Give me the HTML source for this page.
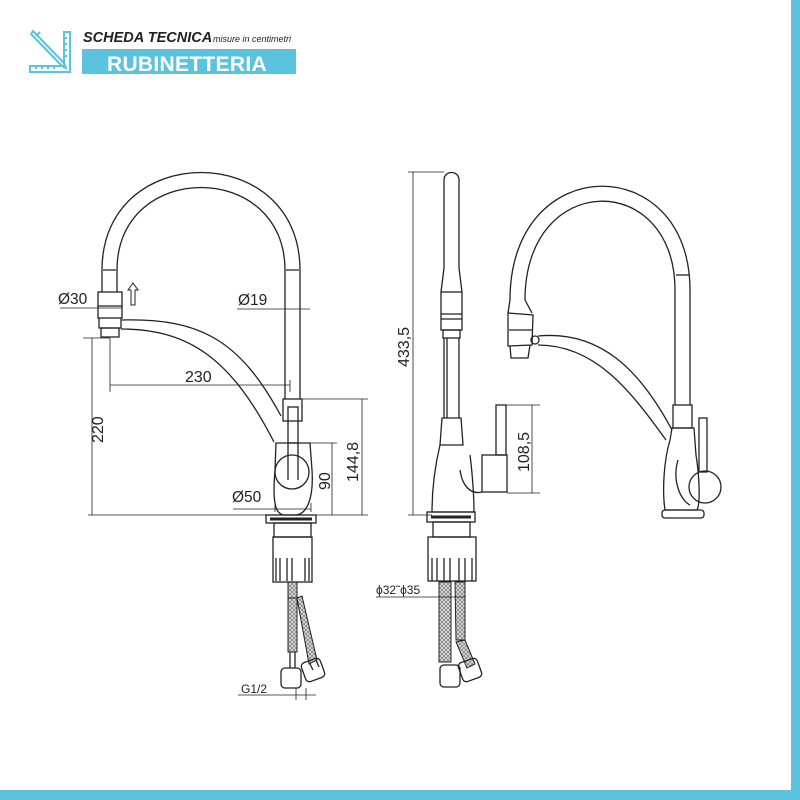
<!DOCTYPE html>
<html><head><meta charset="utf-8"><style>
html,body{margin:0;padding:0;background:#fff}
svg{display:block}
text{font-family:"Liberation Sans",Arial,sans-serif;fill:#222}
</style></head><body>
<svg width="800" height="800" viewBox="0 0 800 800" xmlns="http://www.w3.org/2000/svg">
<defs>
<pattern id="br" width="4" height="4" patternUnits="userSpaceOnUse">
<rect width="4" height="4" fill="#ddd"/>
<path d="M0,4 L4,0 M0,0 L4,4" stroke="#666" stroke-width="0.6"/>
</pattern>
</defs>
<rect x="0" y="0" width="800" height="800" fill="#fff"/>
<rect x="791" y="0" width="9" height="800" fill="#5bc3de"/>
<rect x="0" y="790" width="800" height="10" fill="#5bc3de"/>
<!-- header icon -->
<g stroke="#5bc3de" stroke-width="2" fill="none">
<path d="M31,34 L62,66 L66,68 L64,63 L33,31 Z"/>
<path d="M36,36 L40,32"/>
<path d="M64,32 L70,32 L70,72 L30,72 L30,66 L64,66 Z"/>
<path d="M64,38h3M64,44h3M64,50h3M64,56h3M36,69v-3M42,69v-3M48,69v-3M54,69v-3"/>
</g>
<text x="83" y="42" font-size="14.5" font-style="italic" font-weight="bold">SCHEDA TECNICA</text>
<text x="213" y="42" font-size="9" font-style="italic">misure in centimetri</text>
<rect x="82" y="49" width="214" height="25" fill="#5bc3de"/>
<text x="107" y="71" font-size="21" style="fill:#fff" font-weight="bold" letter-spacing="0.3">RUBINETTERIA</text>

<!-- hoses fill -->
<g fill="url(#br)" stroke="#222" stroke-width="1">
<rect x="288" y="582" width="9" height="16"/>
<path d="M288,598 H297 L297,652 H288 Z"/>
<path d="M297,598 L302,596 L317,660 L309,664 Z"/>
<rect x="439" y="582" width="12" height="80"/>
<path d="M455,582 H465 V640 L456,640 Z"/>
<path d="M456,642 L465,640 L475,664 L467,668 Z"/>
</g>

<g stroke="#222" stroke-width="1.3" fill="none">
<!-- LEFT VIEW -->
<path d="M102,292 L102,270 C102,140 300,140 300,270 L300,399"/>
<path d="M117,292 L117,270 C117,160 285,160 285,270 L285,399"/>
<path d="M103,270 H116 M286,270 H299"/>
<rect x="98" y="292" width="24" height="26"/>
<path d="M98,306 H122"/>
<path d="M99,318 L99,328 H121 V318"/>
<rect x="101" y="328" width="18" height="9"/>
<path d="M122,320 C200,318 240,340 281,416"/>
<path d="M121,329 C190,329 232,360 274,442"/>
<rect x="283" y="399" width="19" height="22"/>
<rect x="288" y="407" width="10" height="36"/>
<path d="M288,443 V480 M298,443 V480"/>
<path d="M276,443 H310 L312,470 C314,500 306,515 295,515 H285 C276,515 272,505 275,470 Z"/>
<circle cx="292" cy="472" r="17"/>
<rect x="266" y="515" width="50" height="8"/>
<path d="M270,519 H312" stroke-width="3"/>
<rect x="274" y="523" width="37" height="14"/>
<rect x="273" y="537" width="39" height="45"/>
<path d="M276,558 V581 M280,558 V581 M287,558 V581 M292,558 V581 M305,558 V581 M309,558 V581"/>
<path d="M290,652 V668 M295,652 V668 M310,664 L313,670 M316,660 L319,667"/>
<rect x="281" y="668" width="20" height="20" rx="4"/>
<rect x="303" y="660" width="20" height="20" rx="4" transform="rotate(-20 313 670)"/>
<!-- left dims -->
<g stroke-width="0.8">
<path d="M88,515 H368"/>
<path d="M92,338 V515"/>
<path d="M83,338 H110"/>
<path d="M110,338 V392 M290,380 V392"/>
<path d="M110,385 H290"/>
<path d="M300,399 H368 M362,399 V515"/>
<path d="M306,443 H337 M332,443 V515"/>
<path d="M237,309 H310"/>
<path d="M60,308 H122"/>
<path d="M275,503 V512 M311,503 V512 M233,509 H311"/>
<path d="M296,688 V700 M306,688 V700 M238,695 H316"/>
</g>
<path d="M131,305 V290 H128 L133,283 L138,290 H135 V305 Z" stroke-width="1"/>

<!-- MIDDLE VIEW -->
<path d="M444,268 V180 C444,170 459,170 459,180 V268"/>
<path d="M444,268 L441,292 M459,268 L462,292"/>
<rect x="441" y="292" width="21" height="38"/>
<path d="M441,314 H462 M441,319 H462"/>
<rect x="443" y="330" width="17" height="8"/>
<path d="M444,338 V418 M459,338 V418 M447,338 V418"/>
<path d="M442,418 H461 L463,445 H440 Z"/>
<path d="M440,445 C434,470 432,495 432,512 H474 C474,495 472,470 470,455"/>
<path d="M460,470 C462,485 470,495 482,492"/>
<rect x="482" y="455" width="25" height="37"/>
<rect x="496" y="405" width="10" height="50"/>
<rect x="427" y="512" width="48" height="10"/>
<path d="M431,517 H471" stroke-width="3"/>
<rect x="433" y="522" width="37" height="15"/>
<rect x="428" y="537" width="48" height="44"/>
<path d="M432,558 V581 M437,558 V581 M444,558 V581 M450,558 V581 M459,558 V581 M465,558 V581 M472,558 V581"/>
<rect x="440" y="665" width="20" height="22" rx="4"/>
<rect x="460" y="660" width="20" height="20" rx="4" transform="rotate(-20 470 670)"/>
<g stroke-width="0.8">
<path d="M408,172 H444 M413,172 V515 M408,515 H432"/>
<path d="M506,405 H540 M532,405 V493 M507,493 H540"/>
<path d="M376,597 H465"/>
</g>

<!-- RIGHT VIEW -->
<path d="M510,300 C510,150 690,150 690,290 L690,405"/>
<path d="M525,300 C525,170 675,170 675,290 L675,405"/>
<path d="M676,275 H689"/>
<path d="M510,300 L508,313 M525,300 L532,313"/>
<path d="M508,313 L533,315 L532,345 L508,346 Z"/>
<path d="M509,330 H532"/>
<path d="M510,346 L511,358 H528 L530,345"/>
<circle cx="535" cy="340" r="4"/>
<path d="M538,336 C600,330 640,370 672,430"/>
<path d="M538,345 C595,345 630,390 666,440"/>
<rect x="673" y="405" width="19" height="23"/>
<path d="M672,428 H694 L696,455 C700,480 700,505 697,510 H665 C662,490 664,460 670,440 Z"/>
<path d="M678,460 C672,480 680,500 690,505"/>
<circle cx="705" cy="487" r="16"/>
<rect x="699" y="418" width="8" height="54"/>
<rect x="662" y="510" width="42" height="8" rx="3"/>
</g>
<!-- labels -->
<text x="58" y="304" font-size="15.5">Ø30</text>
<text x="238" y="305" font-size="15.5">Ø19</text>
<text x="185" y="382" font-size="16">230</text>
<text x="232" y="502" font-size="15.5">Ø50</text>
<text font-size="16" transform="translate(103,443) rotate(-90)">220</text>
<text font-size="16" transform="translate(330,490) rotate(-90)">90</text>
<text font-size="16" transform="translate(358,482) rotate(-90)">144,8</text>
<text font-size="16" transform="translate(409,367) rotate(-90)">433,5</text>
<text font-size="16" transform="translate(529,472) rotate(-90)">108,5</text>
<text x="376" y="594" font-size="12">ϕ32˜ϕ35</text>
<text x="241" y="693" font-size="12">G1/2</text>
</svg>
</body></html>
